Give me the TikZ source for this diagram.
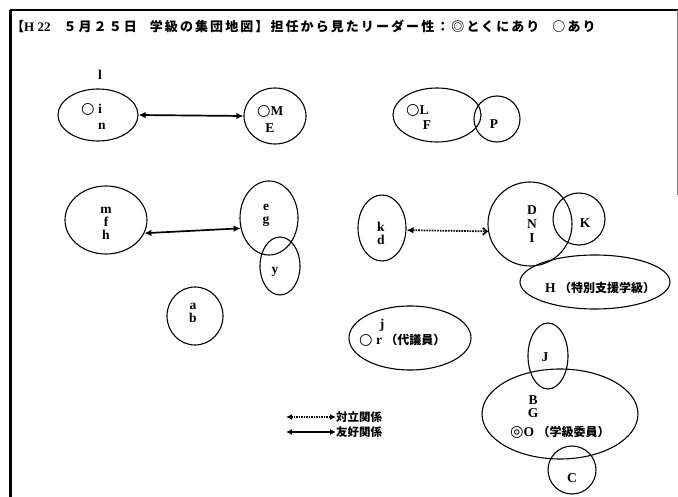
\documentclass[tikz,border=0pt]{standalone}
\usepackage{fontspec}
\setmainfont{Liberation Serif}
\newfontfamily\jp{Noto Sans CJK JP}
\newfontfamily\sym{DejaVu Sans}
\usetikzlibrary{arrows.meta,shapes.geometric}
\newcommand{\maru}{{\sym\mdseries\fontsize{15.5}{14}\selectfont ○}}
\newcommand{\nijyu}{{\sym\mdseries\fontsize{15.5}{14}\selectfont ◎}}
\begin{document}
\begin{tikzpicture}[x=1pt,y=-1pt,
  grp/.style={draw,ellipse,line width=1.1pt,inner sep=0pt},
  lbl/.style={font=\bfseries\fontsize{13.5}{14}\selectfont,inner sep=0pt},
  jlbl/.style={font=\jp\bfseries\fontsize{11.5}{13}\selectfont,inner sep=0pt},
  friend/.style={line width=1.7pt,{Latex[length=7pt,width=6.5pt]}-{Latex[length=7pt,width=6.5pt]}},
  conflict/.style={line width=1.7pt,densely dotted,{Latex[length=7pt,width=6.5pt]}-{Straight Barb[length=4pt,width=7pt]}},
  conflictleg/.style={line width=1.5pt,densely dotted,{Latex[length=6pt,width=6pt]}-{Latex[length=6pt,width=6pt]}},
  friendleg/.style={line width=1.6pt,{Latex[length=6pt,width=6pt]}-{Latex[length=6pt,width=6pt]}}
]
\useasboundingbox (0,0) rectangle (678,497);
% frame
\coordinate (fTL) at (10,10);
\coordinate (fBL) at (10,497);
\coordinate (fTR) at (678,10);
\coordinate (fR1) at (677,10);
\coordinate (fR2) at (677,195);
\draw[line width=3pt] (fBL) -- (fTL);
\draw[line width=2.4pt] (fTL) -- (fTR);
\draw[line width=0.8pt,gray] (fR1) -- (fR2);

% title
\node[anchor=west,inner sep=0pt,font=\jp\bfseries\fontsize{13}{14}\selectfont] (title) at (11,26)
  {\addfontfeature{LetterSpace=16}【{\rmfamily H 22}\quad ５月２５日\quad 学級の集団地図】担任から見たリーダー性：◎とくにあり\quad ○あり};

% groups
\node[grp,minimum width=80pt,minimum height=52pt] (e1) at (98,115) {};
\node[grp,minimum width=62pt,minimum height=56pt] (e2) at (275,116) {};
\node[grp,minimum width=88pt,minimum height=54pt] (e3) at (437,115) {};
\node[grp,circle,minimum size=46pt] (e4) at (497,119) {};
\node[grp,minimum width=82pt,minimum height=68pt] (e5) at (106,220) {};
\node[grp,minimum width=58pt,minimum height=74pt] (e6) at (269,218) {};
\node[grp,minimum width=40pt,minimum height=58pt] (e7) at (280,266) {};
\node[grp,minimum width=56pt,minimum height=58pt] (e8) at (195,316) {};
\node[grp,minimum width=48pt,minimum height=66pt] (e9) at (382,228) {};
\node[grp,circle,minimum size=84pt] (e10) at (530,224) {};
\node[grp,circle,minimum size=52pt] (e11) at (579,219) {};
\node[grp,minimum width=150pt,minimum height=54pt] (e12) at (595,282) {};
\node[grp,minimum width=122pt,minimum height=64pt] (e13) at (410,338) {};
\node[grp,minimum width=40pt,minimum height=66pt] (e14) at (548,356) {};
\node[grp,minimum width=156pt,minimum height=90pt] (e15) at (560,414) {};
\node[grp,circle,minimum size=48pt] (e16) at (572,470) {};

% labels
\node[lbl] (tl) at (100,75) {l};
\node[lbl,anchor=west] (t1a) at (81,109) {\maru\ i};
\node[lbl] (t1b) at (102,126) {n};
\node[lbl,anchor=west] (t2a) at (257,111) {\maru M};
\node[lbl] (t2b) at (270,128) {E};
\node[lbl,anchor=west] (t3a) at (406,110) {\maru L};
\node[lbl] (t3b) at (427,125) {F};
\node[lbl] (t4) at (494,124) {P};
\node[lbl,align=center] (t5) at (106,223) {m\\[-1pt]f\\[-1pt]h};
\node[lbl,align=center] (t6) at (266,215) {e\\[-1pt]g};
\node[lbl] (t7) at (275,272) {y};
\node[lbl,align=center] (t8) at (193,313) {a\\[-1pt]b};
\node[lbl,align=center] (t9) at (381,233) {k\\[-1pt]d};
\node[lbl,align=center] (t10) at (532,224) {D\\[0pt]N\\[0pt]I};
\node[lbl] (t11) at (585,223) {K};
\node[lbl,anchor=west] (t12) at (545,288) {H\ {\jp\fontsize{12}{13}\selectfont （特別支援学級）}};
\node[lbl] (t13a) at (382,325) {j};
\node[lbl,anchor=west] (t13b) at (359,340) {\maru\ r\ {\jp\fontsize{12}{13}\selectfont （代議員）}};
\node[lbl] (t14) at (545,357) {J};
\node[lbl,align=center] (t15) at (533,407) {B\\[-1pt]G};
\node[lbl,anchor=west] (t15b) at (510,432) {\nijyu O\ {\jp\fontsize{12}{13}\selectfont （学級委員）}};
\node[lbl] (t16) at (572,478) {C};

% relations
\draw[friend] (e1.east) -- (e2.west);
\draw[friend] (e5.-19) -- (e6.200);
\draw[conflict] (e9.-5) -- (e10.190);

% legend
\coordinate (l1a) at (286,417);
\coordinate (l1b) at (336,417);
\coordinate (l2a) at (286,432);
\coordinate (l2b) at (336,432);
\draw[conflictleg] (l1a) -- (l1b);
\draw[friendleg] (l2a) -- (l2b);
\node[jlbl,anchor=west] (lg1) at (l1b) {対立関係};
\node[jlbl,anchor=west] (lg2) at (l2b) {友好関係};
\end{tikzpicture}
\end{document}
